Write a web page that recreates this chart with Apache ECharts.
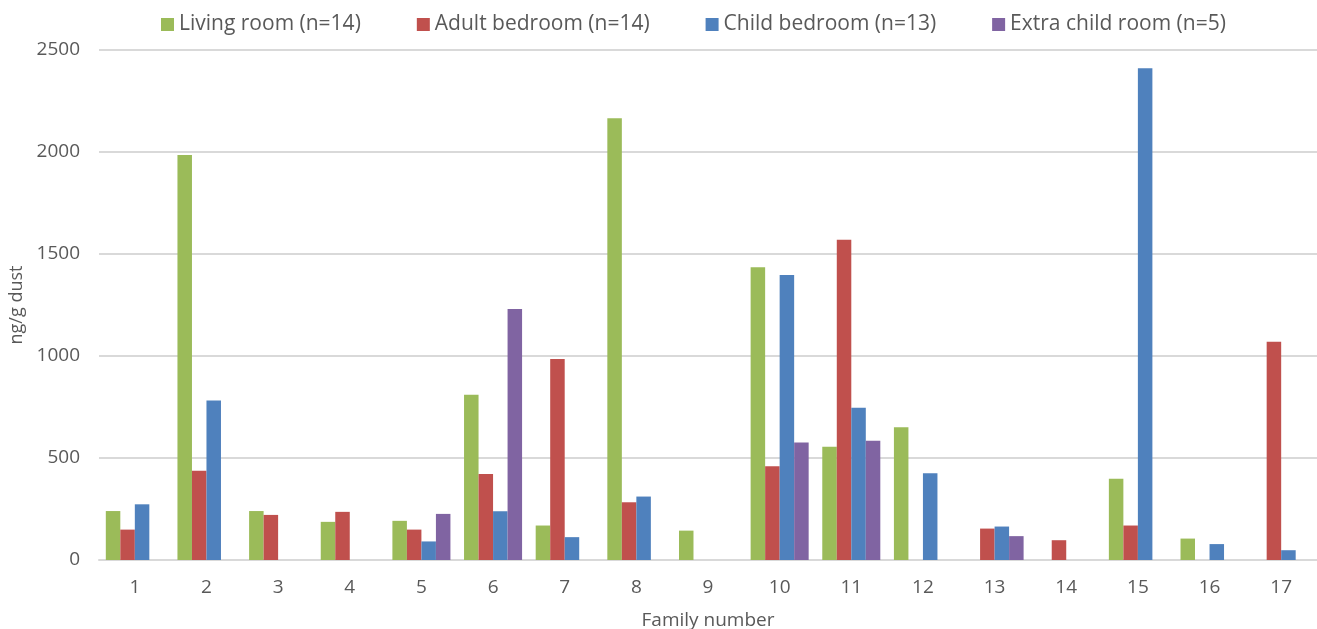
<!DOCTYPE html>
<html>
<head>
<meta charset="utf-8">
<script src="https://cdn.jsdelivr.net/npm/echarts@6/dist/echarts.min.js"></script>
<style>
  html, body { margin: 0; padding: 0; background: #fff; }
  #chart { width: 1317px; height: 629px; }
</style>
</head>
<body>
<div id="chart"></div>
<script>
// Family numbers along the x axis
const families = ['1','2','3','4','5','6','7','8','9','10','11','12','13','14','15','16','17'];

// Concentration in ng/g dust per room type (null = no sample)
const livingRoom     = [240, 1985, 240, 187, 192, 810, 169, 2165, 144, 1435, 555, 651, null, null, 398, 105, null];
const adultBedroom   = [149, 437, 221, 236, 149, 422, 985, 283, null, 460, 1570, null, 154, 97, 169, null, 1070];
const childBedroom   = [273, 782, null, null, 91, 239, 112, 311, null, 1397, 746, 425, 164, null, 2410, 78, 48];
const extraChildRoom = [null, null, null, null, 226, 1230, null, null, null, 576, 584, null, 117, null, null, null, null];

const seriesNames = ['Living room (n=14)', 'Adult bedroom (n=14)', 'Child bedroom (n=13)', 'Extra child room (n=5)'];
const seriesColors = ['#9BBB59', '#C0504D', '#4F81BD', '#8064A2'];
const seriesData = [livingRoom, adultBedroom, childBedroom, extraChildRoom];

const font = '"Open Sans", "DejaVu Sans", sans-serif';
const textColor = '#595959';

const chart = echarts.init(document.getElementById('chart'), null, { renderer: 'canvas' });

chart.setOption({
  backgroundColor: '#ffffff',
  animation: false,
  textStyle: { fontFamily: font, color: textColor },
  legend: {
    top: 9,
    left: 156,
    itemWidth: 13,
    itemHeight: 13,
    itemGap: 56,
    icon: 'rect',
    textStyle: { fontFamily: font, fontSize: 21, color: textColor },
    data: seriesNames
  },
  grid: { left: 99, right: 0, top: 50, bottom: 69, containLabel: false, outerBoundsMode: 'none' },
  xAxis: {
    type: 'category',
    data: families,
    name: 'Family number',
    nameLocation: 'middle',
    nameGap: 51,
    nameTextStyle: { fontFamily: font, fontSize: 19, color: textColor },
    axisLine: { lineStyle: { color: '#D9D9D9', width: 2 } },
    axisTick: { show: false },
    axisLabel: { fontFamily: font, fontSize: 19, color: textColor, margin: 18 }
  },
  yAxis: {
    type: 'value',
    min: 0,
    max: 2500,
    interval: 500,
    name: 'ng/g dust',
    nameLocation: 'middle',
    nameGap: 70,
    nameTextStyle: { fontFamily: font, fontSize: 18, color: textColor },
    axisLine: { show: false },
    axisTick: { show: false },
    axisLabel: {
      fontFamily: font, fontSize: 19, color: textColor, margin: 19,
      formatter: (v) => String(v)
    },
    splitLine: { lineStyle: { color: '#D9D9D9', width: 2 } }
  },
  series: seriesData.map((d, i) => ({
    name: seriesNames[i],
    type: 'bar',
    data: d,
    barGap: '0%',
    barCategoryGap: '19%',
    itemStyle: { color: seriesColors[i] }
  }))
});
</script>
</body>
</html>
